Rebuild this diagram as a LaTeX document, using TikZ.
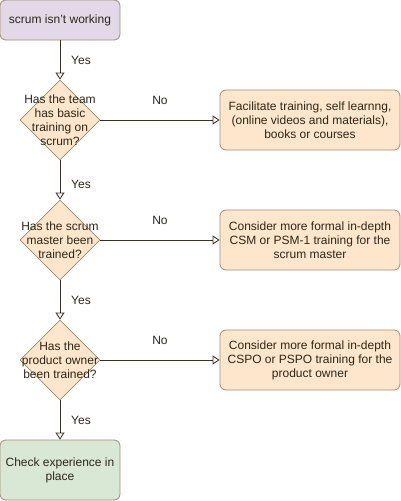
\documentclass[tikz,border=0pt]{standalone}
\usepackage{fontspec}
\setmainfont{Liberation Sans}
\usetikzlibrary{shapes.geometric,arrows.meta}
\definecolor{txt}{HTML}{2E2618}
\definecolor{edge}{HTML}{3A3022}
\definecolor{bord}{HTML}{A08C74}
\definecolor{purp}{HTML}{E3D8E8}
\definecolor{orng}{HTML}{FDE6CC}
\definecolor{grn}{HTML}{D8E8D4}
\begin{document}
\begin{tikzpicture}[x=1pt,y=-1pt,
  every node/.style={font=\fontsize{12}{14}\selectfont, text=txt},
  box/.style={draw=bord, line width=0.8pt, rounded corners=6pt, align=center, inner sep=0pt},
  dia/.style={diamond, draw=bord, fill=orng, line width=0.8pt, minimum width=80pt, minimum height=80pt, inner sep=0pt},
  dtext/.style={align=center, inner sep=0pt},
  conn/.style={draw=edge, line width=0.8pt, -{Triangle[open, length=7pt, width=9pt]}},
  lab/.style={inner sep=0pt}]
\useasboundingbox (0,0) rectangle (401,501);
\node[box, fill=purp, minimum width=120pt, minimum height=40pt] (start) at (60,20) {scrum isn{\char"0027}t working};
\node[dia] (d1) at (60,120) {};
\node[dtext] (t1) at (60,120) {Has the team\\has basic\\training on\\scrum?};
\node[dia] (d2) at (60,240) {};
\node[dtext] (t2) at (60,240) {Has the scrum\\master been\\trained?};
\node[dia] (d3) at (60,360) {};
\node[dtext] (t3) at (60,360) {Has the\\product owner\\been trained?};
\node[box, fill=grn, minimum width=120pt, minimum height=60pt] (end) at (60,470) {Check experience in\\place};
\node[box, fill=orng, minimum width=180pt, minimum height=60pt] (b1) at (310,120) {Facilitate training, self learnng,\\(online videos and materials),\\books or courses};
\node[box, fill=orng, minimum width=180pt, minimum height=60pt] (b2) at (310,240) {Consider more formal in-depth\\CSM or PSM-1 training for the\\scrum master};
\node[box, fill=orng, minimum width=180pt, minimum height=60pt] (b3) at (310,360) {Consider more formal in-depth\\CSPO or PSPO training for the\\product owner};
\draw[conn] (start) -- (d1);
\draw[conn] (d1) -- (d2);
\draw[conn] (d2) -- (d3);
\draw[conn] (d3) -- (end);
\draw[conn] (d1) -- (b1);
\draw[conn] (d2) -- (b2);
\draw[conn] (d3) -- (b3);
\node[lab] (y1) at (81,60) {Yes};
\node[lab] (y2) at (81,184) {Yes};
\node[lab] (y3) at (81,300) {Yes};
\node[lab] (y4) at (81,420) {Yes};
\node[lab] (n1) at (160,100) {No};
\node[lab] (n2) at (160,220) {No};
\node[lab] (n3) at (160,340) {No};
\end{tikzpicture}
\end{document}
